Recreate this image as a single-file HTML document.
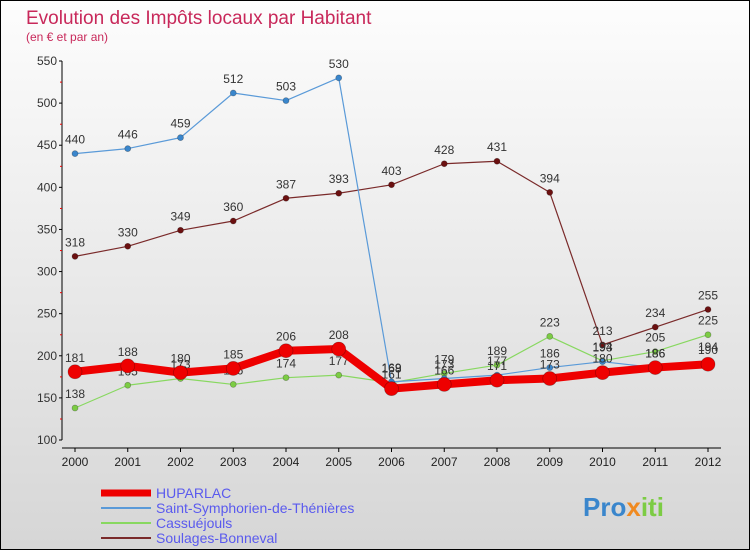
<!DOCTYPE html>
<html><head><meta charset="utf-8"><style>
body{margin:0;}
#c{width:748px;height:548px;border:1px solid #000;background:linear-gradient(#fdfdfd,#d6d6d6);position:relative;font-family:"Liberation Sans",sans-serif;overflow:hidden}
</style></head><body>
<div id="c">
<svg id="s" width="748" height="548">
<text x="25" y="23" font-size="19" fill="#c8285a">Evolution des Impôts locaux par Habitant</text>
<text x="25" y="40" font-size="12" fill="#c8285a">(en € et par an)</text>
<g id="g"></g>
<text x="582" y="515" font-size="26" font-weight="bold"><tspan fill="#3a86cc">Pro</tspan><tspan fill="#f08a20">x</tspan><tspan fill="#7ccc44">iti</tspan></text>
</svg>
</div>
<script>
const years=[2000,2001,2002,2003,2004,2005,2006,2007,2008,2009,2010,2011,2012];
const yTicks=[100,150,200,250,300,350,400,450,500,550];
const huparlac=[181,188,180,185,206,208,161,166,171,173,180,186,190];
const saintSymph=[440,446,459,512,503,530,169,173,177,186,193,186,194];
const cassuejouls=[138,165,173,166,174,177,168,179,189,223,194,205,225];
const soulages=[318,330,349,360,387,393,403,428,431,394,213,234,255];
const series=[
 {name:"Soulages-Bonneval",vals:soulages,col:"#7a2a2a",dot:"#6b1010",w:1.2,r:3,key:"soulages"},
 {name:"Cassuéjouls",vals:cassuejouls,col:"#88d860",dot:"#7ccc44",w:1.2,r:3,key:"cassuejouls"},
 {name:"Saint-Symphorien-de-Thénières",vals:saintSymph,col:"#5a9ad8",dot:"#3a86cc",w:1.2,r:3,key:"saint-symphorien"},
 {name:"HUPARLAC",vals:huparlac,col:"#ee0000",dot:"#ee0000",w:8,r:7,key:"huparlac"}
];
const NS="http://www.w3.org/2000/svg";
const g=document.getElementById('g');
const xS=i=>74+i*(707-74)/(years.length-1);
const yS=v=>439-(v-100)*(379/450);
function mk(t,a,p){const e=document.createElementNS(NS,t);for(const k in a)e.setAttribute(k,a[k]);(p||g).appendChild(e);return e;}
let ax=mk('line',{x1:61,y1:60,x2:61,y2:439,stroke:'#000'});


yTicks.forEach(v=>{
 let y=yS(v);
 let t=mk('line',{x1:58,y1:y,x2:61,y2:y,stroke:'#000'});
 
 
 let l=mk('text',{x:56,y:y+4,'font-size':12,fill:'#333','text-anchor':'end'});l.textContent=v;
 
 
 if(v<550){let m=mk('line',{x1:59,y1:y-21,x2:61,y2:y-21,stroke:'#e00'});
 
 }
});
let xa=mk('line',{x1:61,y1:447,x2:720,y2:447,stroke:'#000'});


years.forEach((yr,i)=>{
 let x=xS(i);
 let t=mk('line',{x1:x,y1:447,x2:x,y2:451,stroke:'#000'});
 
 
 let l=mk('text',{x:x,y:465,'font-size':12,fill:'#222','text-anchor':'middle'});l.textContent=yr;
 
 
});
series.forEach(s=>{
 let pts=s.vals.map((v,i)=>xS(i)+','+yS(v)).join(' ');
 let pl=mk('polyline',{points:pts,fill:'none',stroke:s.col,'stroke-width':s.w,'stroke-linejoin':'round'});
 
 
 s.vals.forEach((v,i)=>{
  let c=mk('circle',{cx:xS(i),cy:yS(v),r:s.r,fill:s.dot,stroke:'rgba(0,0,0,0.3)','stroke-width':0.7});
  
  
  let t=mk('text',{x:xS(i),y:yS(v)-10,'font-size':12,fill:'#333','text-anchor':'middle'});t.textContent=v;
  
  
 });
});
const leg=[["HUPARLAC","#ee0000",7],["Saint-Symphorien-de-Thénières","#5a9ad8",2],["Cassuéjouls","#88d860",2],["Soulages-Bonneval","#7a2a2a",2]];
leg.forEach((e,i)=>{
 let y=492+i*15;
 let l=mk('line',{x1:100,y1:y,x2:150,y2:y,stroke:e[1],'stroke-width':e[2]});
 
 
 let t=mk('text',{x:155,y:y+5,'font-size':14,fill:'#5a5aee'});t.textContent=e[0];
 
 
});
</script>
</body></html>
